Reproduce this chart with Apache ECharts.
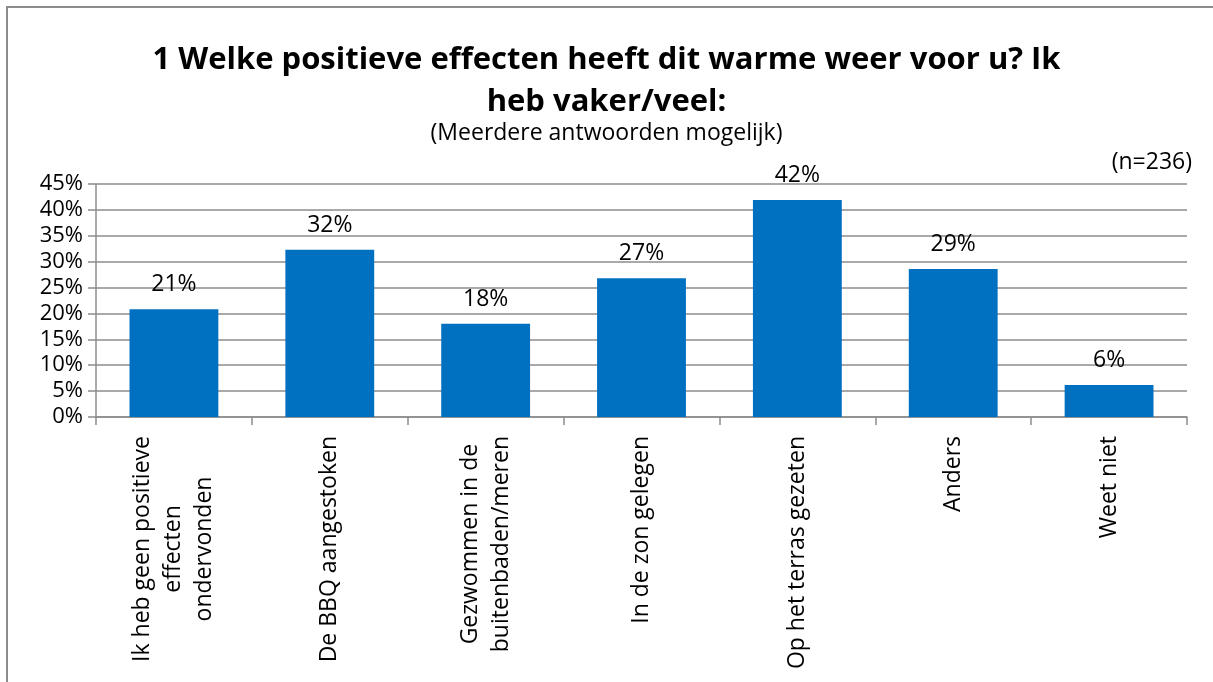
<!DOCTYPE html>
<html>
<head>
<meta charset="utf-8">
<script src="https://cdn.jsdelivr.net/npm/echarts@6/dist/echarts.min.js"></script>
<style>html,body{margin:0;padding:0;background:#fff}#c{width:1213px;height:682px}</style>
</head>
<body>
<div id="c"></div>
<script>
const categories = [
  ['Ik heb geen positieve', 'effecten', 'ondervonden'],
  ['De BBQ aangestoken'],
  ['Gezwommen in de', 'buitenbaden/meren'],
  ['In de zon gelegen'],
  ['Op het terras gezeten'],
  ['Anders'],
  ['Weet niet']
];
const values = [20.8, 32.3, 18.0, 26.8, 41.9, 28.6, 6.2];
const valueLabels = ['21%', '32%', '18%', '27%', '42%', '29%', '6%'];
const yTicks = { min: 0, max: 45, interval: 5 };
const titleText = '1 Welke positieve effecten heeft dit warme weer voor u? Ik\nheb vaker/veel:';
const subtitleText = '(Meerdere antwoorden mogelijk)';
const nText = '(n=236)';

const FONT = 'Open Sans';
const chart = echarts.init(document.getElementById('c'), null, { renderer: 'canvas' });
const catKeys = categories.map(c => c.join('|'));

chart.setOption({
  animation: false,
  backgroundColor: '#fff',
  textStyle: { fontFamily: FONT, color: '#000' },
  title: [
    { text: titleText, left: 'center', top: 34, textStyle: { fontFamily: FONT, fontSize: 31, fontWeight: 'bold', color: '#000', lineHeight: 42 } },
    { text: subtitleText, left: 'center', top: 117, textStyle: { fontFamily: FONT, fontSize: 23, fontWeight: 'normal', color: '#000' } },
    { text: nText, right: 16, top: 146, textStyle: { fontFamily: FONT, fontSize: 23, fontWeight: 'normal', color: '#000' } }
  ],
  graphic: [
    { type: 'rect', shape: { x: 7, y: 7, width: 1230, height: 700 }, style: { fill: 'none', stroke: '#8c8c8c', lineWidth: 2 }, silent: true }
  ],
  grid: { left: 96, right: 26, top: 184, bottom: 265, containLabel: false },
  xAxis: {
    type: 'category',
    data: catKeys,
    axisLine: { show: true, lineStyle: { color: '#8c8c8c', width: 1.5 } },
    axisTick: { show: true, length: 8, alignWithLabel: false, lineStyle: { color: '#8c8c8c', width: 1.5 } },
    axisLabel: {
      rotate: 90,
      interval: 0,
      margin: 19,
      fontFamily: FONT,
      fontSize: 23,
      color: '#000',
      lineHeight: 31,
      formatter: function (v) { return v.split('|').map(s => '{c|' + s + '}').join('\n'); },
      rich: { c: { align: 'center', fontFamily: FONT, fontSize: 23, lineHeight: 31, color: '#000' } }
    }
  },
  yAxis: {
    type: 'value',
    min: yTicks.min, max: yTicks.max, interval: yTicks.interval,
    axisLine: { show: true, lineStyle: { color: '#8c8c8c', width: 1.5 } },
    axisTick: { show: true, length: 8, lineStyle: { color: '#8c8c8c', width: 1.5 } },
    splitLine: { show: true, lineStyle: { color: '#8c8c8c', width: 1.5 } },
    axisLabel: { formatter: '{value}%', fontFamily: FONT, fontSize: 22, color: '#000', margin: 13 }
  },
  series: [{
    type: 'bar',
    data: values,
    barWidth: '57%',
    itemStyle: { color: '#0070C0' },
    label: {
      show: true, position: 'top', distance: 13,
      fontFamily: FONT, fontSize: 23, color: '#000',
      formatter: p => valueLabels[p.dataIndex]
    }
  }]
});
</script>
</body>
</html>
